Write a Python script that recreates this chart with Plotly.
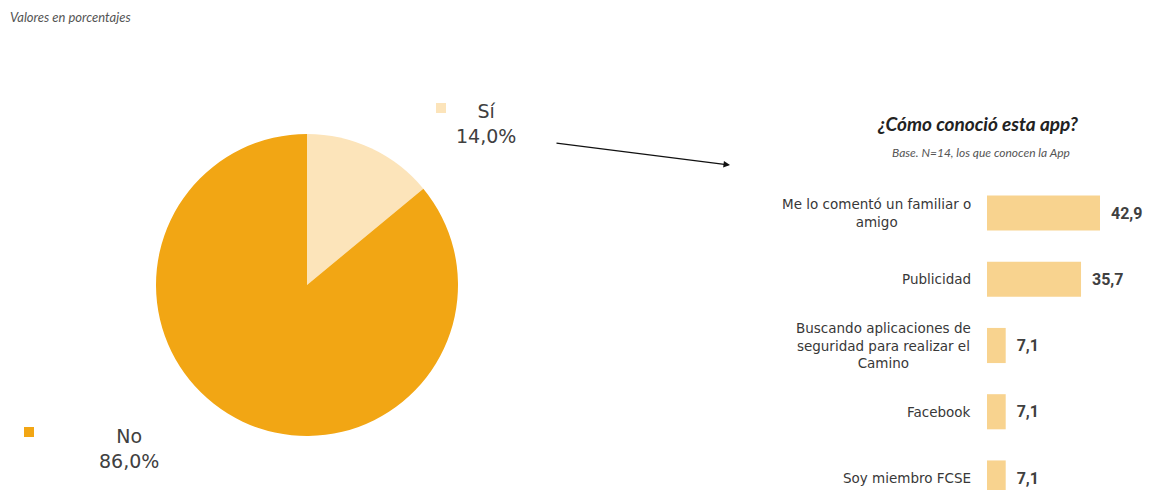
import plotly.graph_objects as go

W, H = 1154, 490

pie_labels = ["Sí", "No"]
pie_values = [14.0, 86.0]
pie_colors = ["#FCE4BA", "#F2A614"]

bar_categories = [
    "Me lo comentó un familiar o<br>amigo",
    "Publicidad",
    "Buscando aplicaciones de<br>seguridad para realizar el<br>Camino",
    "Facebook",
    "Soy miembro FCSE",
]
bar_values = [42.9, 35.7, 7.1, 7.1, 7.1]
bar_color = "#F8D38F"

title_text = "¿Cómo conoció esta app?"
subtitle_text = "Base. N=14, los que conocen la App"
note_text = "Valores en porcentajes"

TXT = "#404040"

fig = go.Figure()

# Pie
cx, cy, r = 307, 285, 151
fig.add_trace(go.Pie(
    labels=pie_labels, values=pie_values, sort=False, direction="clockwise",
    rotation=0, marker=dict(colors=pie_colors, line=dict(width=0)),
    textinfo="none", hoverinfo="label+percent", showlegend=False,
    domain=dict(x=[(cx - r) / W, (cx + r) / W], y=[(H - cy - r) / H, (H - cy + r) / H]),
))

def fmt(v):
    return f"{v:.1f}".replace(".", ",")

cat_ids = [str(i) for i in range(len(bar_categories))]
fig.add_trace(go.Bar(
    x=bar_values, y=cat_ids, orientation="h", xaxis="x", yaxis="y",
    marker=dict(color=bar_color, line=dict(width=0)), width=0.53,
    text=["  " + fmt(v) for v in bar_values], textposition="outside",
    textfont=dict(family="Roboto", size=16, color=TXT), texttemplate="<b>%{text}</b>",
    cliponaxis=False, showlegend=False,
))

px_per_unit = 113 / 42.9
x0 = 987
fig.update_layout(
    width=W, height=H, margin=dict(l=0, r=0, t=0, b=0),
    paper_bgcolor="white", plot_bgcolor="rgba(0,0,0,0)",
    xaxis=dict(domain=[x0 / W, 1], range=[0, (W - x0) / px_per_unit], visible=False),
    yaxis=dict(domain=[0, 1], type="category", categoryorder="array", categoryarray=cat_ids,
               range=[(H - 213) / 66.25, -213 / 66.25], visible=False),
)

# Category labels (centered lines, right-anchored block)
for cid, lab in zip(cat_ids, bar_categories):
    fig.add_annotation(x=973 / W, xref="paper", y=cid, yref="y", text=lab,
                       showarrow=False, xanchor="right", yanchor="middle", align="center",
                       font=dict(family="DejaVu Sans", size=13.5, color="#383838"))

def paper_text(x, y, text, font, xanchor="center"):
    fig.add_annotation(x=x / W, y=1 - y / H, xref="paper", yref="paper",
                       xanchor=xanchor, yanchor="middle", align="center",
                       text=text, showarrow=False, font=font)

# Titles
paper_text(978, 123, f"<b><i>{title_text}</i></b>", dict(family="Lato", size=19, color="#222222"))
paper_text(981, 153, f"<i>{subtitle_text}</i>", dict(family="Lato", size=12, color="#555555"))
paper_text(8, 17, f"<i>{note_text}</i>", dict(family="Lato", size=13, color="#555555"), xanchor="left")

# Arrow
fig.add_annotation(x=730 / W, y=1 - 165 / H, xref="paper", yref="paper", text="",
                   showarrow=True, ax=-175, ay=-22, arrowhead=2, arrowsize=1,
                   arrowwidth=1.3, arrowcolor="#111111")

# Pie labels with legend keys
label_pos = {"Sí": (486, 123, 441, 108), "No": (129, 448, 29, 432)}
for lab, val, col in zip(pie_labels, pie_values, pie_colors):
    tx, ty, sx, sy = label_pos[lab]
    paper_text(tx, ty, f"{lab}<br>{fmt(val)}%", dict(family="DejaVu Sans", size=19, color=TXT))
    fig.add_shape(type="rect", xref="paper", yref="paper",
                  x0=(sx - 5) / W, x1=(sx + 5) / W, y0=1 - (sy + 5) / H, y1=1 - (sy - 5) / H,
                  fillcolor=col, line=dict(width=0))

fig.write_html("out.html", config={"displayModeBar": False},
               post_script="document.body.style.margin='0';document.body.style.overflow='hidden';")
